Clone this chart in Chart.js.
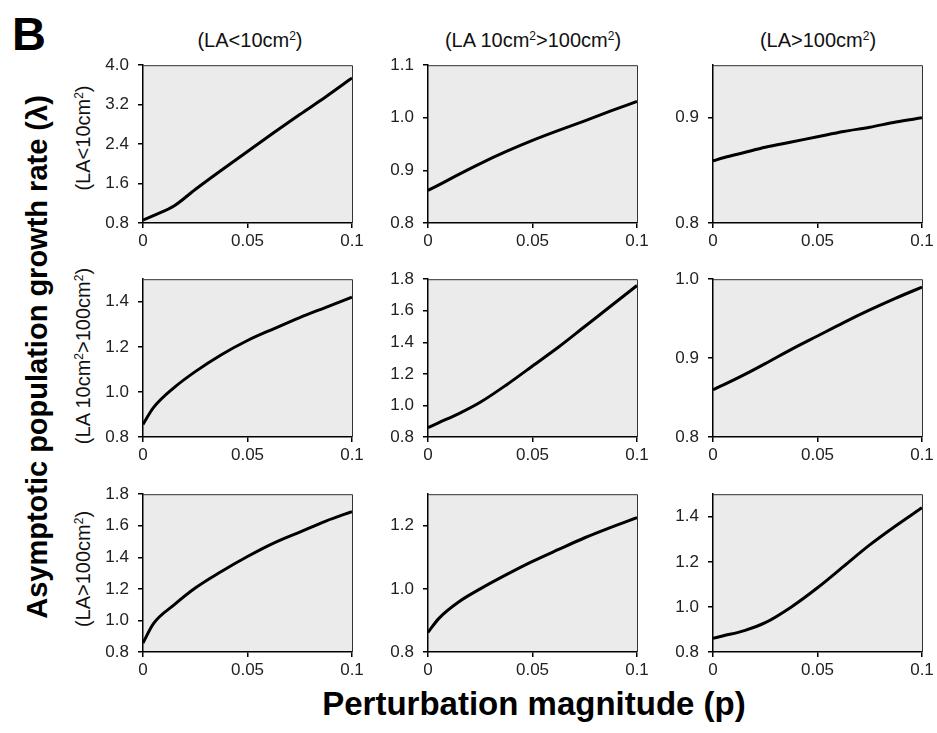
<!DOCTYPE html>
<html>
<head>
<meta charset="utf-8">
<script src="https://cdn.jsdelivr.net/npm/chart.js@4"></script>
<style>
    body { margin: 0; background: #fff; font-family: Arial, "Liberation Sans", sans-serif; }
    #wrap { position: relative; width: 937px; height: 733px; overflow: hidden; }
    .panel { position: absolute; }
    .lbl { position: absolute; color: #111; white-space: nowrap; font-size: 20px; }
    .rot { transform: translate(-50%, -50%) rotate(-90deg); }
    .ctr { transform: translate(-50%, -50%); }
    .bold { font-weight: bold; color: #000; }
    sup { font-size: 0.6em; vertical-align: 0.55em; line-height: 0; }
</style>
</head>
<body>
<div id="wrap">
    <div class="lbl bold" style="left:12px; top:6px; font-size:47px;">B</div>

    <div class="lbl ctr" style="left:250px; top:40px;">(LA&lt;10cm<sup>2</sup>)</div>
    <div class="lbl ctr" style="left:533px; top:40px;">(LA 10cm<sup>2</sup>&gt;100cm<sup>2</sup>)</div>
    <div class="lbl ctr" style="left:818px; top:40px;">(LA&gt;100cm<sup>2</sup>)</div>

    <div class="lbl rot" style="left:83px; top:138px;">(LA&lt;10cm<sup>2</sup>)</div>
    <div class="lbl rot" style="left:83px; top:356px;">(LA 10cm<sup>2</sup>&gt;100cm<sup>2</sup>)</div>
    <div class="lbl rot" style="left:83px; top:569px;">(LA&gt;100cm<sup>2</sup>)</div>

    <div class="lbl bold rot" style="left:37px; top:357px; font-size:29px;">Asymptotic population growth rate (λ)</div>
    <div class="lbl bold ctr" style="left:534px; top:704px; font-size:33px;">Perturbation magnitude (p)</div>
</div>

<script>
// ==================== ДАННЫЕ ====================

const pValues = [0, 0.005, 0.015, 0.025, 0.0375, 0.05, 0.0625, 0.075, 0.0875, 0.1];
const xTicks = [0, 0.05, 0.1];
const xTickLabels = ['0', '0.05', '0.1'];

// строка 1
const lambdaR1C1 = [0.86, 0.95, 1.15, 1.48, 1.87, 2.25, 2.63, 3.00, 3.36, 3.74];
const lambdaR1C2 = [0.862, 0.872, 0.893, 0.913, 0.936, 0.957, 0.976, 0.994, 1.013, 1.031];
const lambdaR1C3 = [0.859, 0.862, 0.867, 0.872, 0.877, 0.882, 0.887, 0.891, 0.896, 0.900];
// строка 2
const lambdaR2C1 = [0.856, 0.93, 1.02, 1.09, 1.165, 1.228, 1.28, 1.33, 1.375, 1.42];
const lambdaR2C2 = [0.86, 0.89, 0.95, 1.02, 1.13, 1.25, 1.37, 1.50, 1.63, 1.76];
const lambdaR2C3 = [0.86, 0.866, 0.879, 0.893, 0.911, 0.928, 0.945, 0.961, 0.976, 0.99];
// строка 3
const lambdaR3C1 = [0.857, 0.98, 1.10, 1.205, 1.31, 1.405, 1.49, 1.56, 1.63, 1.69];
const lambdaR3C2 = [0.862, 0.905, 0.96, 1.0, 1.045, 1.087, 1.125, 1.162, 1.195, 1.226];
const lambdaR3C3 = [0.861, 0.872, 0.895, 0.93, 1.00, 1.085, 1.18, 1.275, 1.36, 1.44];

const yTicksR1C1 = [0.8, 1.6, 2.4, 3.2, 4.0];
const yTicksR1C2 = [0.8, 0.9, 1.0, 1.1];
const yTicksR1C3 = [0.8, 0.9];
const yTicksR2C1 = [0.8, 1.0, 1.2, 1.4];
const yTicksR2C2 = [0.8, 1.0, 1.2, 1.4, 1.6, 1.8];
const yTicksR2C3 = [0.8, 0.9, 1.0];
const yTicksR3C1 = [0.8, 1.0, 1.2, 1.4, 1.6, 1.8];
const yTicksR3C2 = [0.8, 1.0, 1.2];
const yTicksR3C3 = [0.8, 1.0, 1.2, 1.4];

const yMax = [4.0, 1.1, 0.95, 1.5, 1.8, 1.0, 1.8, 1.3, 1.5];

// ==================== РАЗМЕТКА ====================

const colLeft = [143, 428, 713];
const rowTop = [58, 272, 487];
const plotW = 209;
const plotH = 165;
const axisW = 60;
const axisH = 34;
const padTop = 12;
const padRight = 22;

const panels = [
    { data: lambdaR1C1, ticks: yTicksR1C1 },
    { data: lambdaR1C2, ticks: yTicksR1C2 },
    { data: lambdaR1C3, ticks: yTicksR1C3 },
    { data: lambdaR2C1, ticks: yTicksR2C1 },
    { data: lambdaR2C2, ticks: yTicksR2C2 },
    { data: lambdaR2C3, ticks: yTicksR2C3 },
    { data: lambdaR3C1, ticks: yTicksR3C1 },
    { data: lambdaR3C2, ticks: yTicksR3C2 },
    { data: lambdaR3C3, ticks: yTicksR3C3 }
];

// серый фон и верхняя/правая рамка
const frame = {
    id: 'frame',
    beforeDraw(chart) {
        const a = chart.chartArea;
        const ctx = chart.ctx;
        ctx.save();
        ctx.fillStyle = '#ebebeb';
        ctx.fillRect(a.left, a.top, a.right - a.left, a.bottom - a.top);
        ctx.restore();
    },
    afterDraw(chart) {
        const a = chart.chartArea;
        const ctx = chart.ctx;
        ctx.save();
        ctx.strokeStyle = '#333';
        ctx.lineWidth = 1;
        ctx.beginPath();
        ctx.moveTo(a.left, a.top + 0.5);
        ctx.lineTo(a.right + 0.5, a.top + 0.5);
        ctx.lineTo(a.right + 0.5, a.bottom);
        ctx.stroke();
        ctx.restore();
    }
};

const tickFont = { family: 'Arial, "Liberation Sans", sans-serif', size: 17 };
const wrap = document.getElementById('wrap');

panels.forEach((pn, i) => {
    const r = Math.floor(i / 3), c = i % 3;
    const box = document.createElement('div');
    box.className = 'panel';
    box.style.left = (colLeft[c] - axisW) + 'px';
    box.style.top = (rowTop[r] - padTop) + 'px';
    box.style.width = (axisW + plotW + padRight) + 'px';
    box.style.height = (padTop + plotH + axisH) + 'px';
    const cv = document.createElement('canvas');
    box.appendChild(cv);
    wrap.appendChild(box);

    new Chart(cv, {
        type: 'line',
        data: {
            datasets: [{
                data: pValues.map((p, k) => ({ x: p, y: pn.data[k] })),
                borderColor: '#000',
                borderWidth: 3,
                pointRadius: 0,
                fill: false,
                cubicInterpolationMode: 'monotone'
            }]
        },
        options: {
            responsive: true,
            maintainAspectRatio: false,
            animation: false,
            layout: { padding: { top: padTop, right: padRight, left: 0, bottom: 0 } },
            plugins: { legend: { display: false }, tooltip: { enabled: false } },
            scales: {
                x: {
                    type: 'linear',
                    min: 0,
                    max: 0.1,
                    afterBuildTicks: s => { s.ticks = xTicks.map(v => ({ value: v })); },
                    afterFit: s => { s.height = axisH; },
                    ticks: {
                        font: tickFont,
                        color: '#222',
                        padding: 3,
                        maxRotation: 0,
                        callback: (v) => xTickLabels[xTicks.indexOf(v)]
                    },
                    grid: { drawOnChartArea: false, drawTicks: true, tickLength: 5, color: '#000', lineWidth: 1.5 },
                    border: { display: true, color: '#000', width: 1.5 }
                },
                y: {
                    type: 'linear',
                    min: 0.8,
                    max: yMax[i],
                    afterBuildTicks: s => { s.ticks = pn.ticks.map(v => ({ value: v })); },
                    afterFit: s => { s.width = axisW; },
                    ticks: {
                        font: tickFont,
                        color: '#222',
                        padding: 9,
                        callback: v => v.toFixed(1)
                    },
                    grid: { drawOnChartArea: false, drawTicks: true, tickLength: 5, color: '#000', lineWidth: 1.5 },
                    border: { display: true, color: '#000', width: 1.5 }
                }
            }
        },
        plugins: [frame]
    });
});
</script>
</body>
</html>
